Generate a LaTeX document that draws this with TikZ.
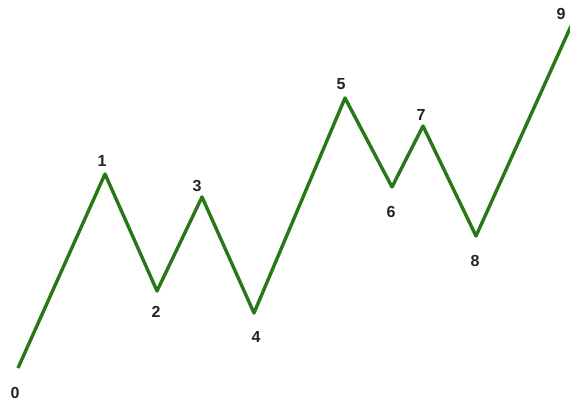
\documentclass[tikz,border=0pt]{standalone}
\usepackage{fontspec}
\setmainfont{Liberation Sans}
\begin{document}
\begin{tikzpicture}[x=1pt,y=-1pt,
  wave/.style={draw={rgb,255:red,40;green,120;blue,25}, line width=3.4pt, line join=round},
  lbl/.style={font=\fontsize{16}{16}\selectfont\bfseries, text={rgb,255:red,35;green,35;blue,35}, inner sep=0pt}]
\useasboundingbox (0,0) rectangle (570,403);
\coordinate (p0) at (18,368);
\coordinate (p1) at (105,174);
\coordinate (p2) at (157,291);
\coordinate (p3) at (202,197);
\coordinate (p4) at (254,313);
\coordinate (p5) at (345,98);
\coordinate (p6) at (392,187);
\coordinate (p7) at (423,126);
\coordinate (p8) at (476,236);
\coordinate (p9) at (571,26);
\draw[wave] (p0) -- (p1) -- (p2) -- (p3) -- (p4) -- (p5) -- (p6) -- (p7) -- (p8) -- (p9);
\node[lbl] (l0) at (15,393) {0};
\node[lbl] (l1) at (102,161) {1};
\node[lbl] (l2) at (156,312) {2};
\node[lbl] (l3) at (197,186) {3};
\node[lbl] (l4) at (256,337) {4};
\node[lbl] (l5) at (341,84) {5};
\node[lbl] (l6) at (391,212) {6};
\node[lbl] (l7) at (421,115) {7};
\node[lbl] (l8) at (475,261) {8};
\node[lbl] (l9) at (561,14) {9};
\end{tikzpicture}
\end{document}
